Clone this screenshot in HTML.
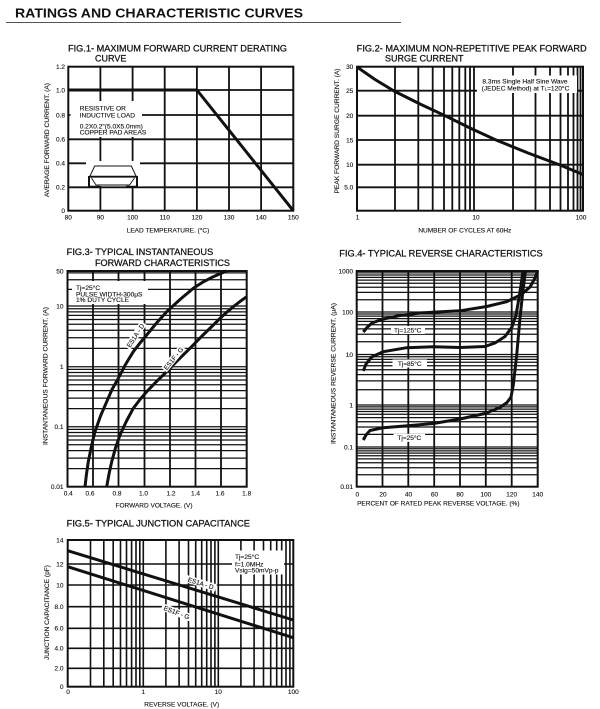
<!DOCTYPE html>
<html>
<head>
<meta charset="utf-8">
<style>
html,body{margin:0;padding:0;background:#fff;}
svg{display:block;}
text{font-family:"Liberation Sans",Arial,sans-serif;fill:#111;}
.tt{font-size:9px;stroke:#111;stroke-width:0.25;}
.tk{font-size:6.5px;stroke:#111;stroke-width:0.12;}
.ax{font-size:6.5px;stroke:#111;stroke-width:0.12;}
.an{font-size:6.6px;stroke:#111;stroke-width:0.12;}
</style>
</head>
<body>
<svg width="600" height="709" viewBox="0 0 600 709" xmlns="http://www.w3.org/2000/svg">
<rect width="600" height="709" fill="#fff"/>

<!-- Header -->
<text x="15" y="17.5" font-size="13" font-weight="bold" textLength="288" lengthAdjust="spacingAndGlyphs">RATINGS AND CHARACTERISTIC CURVES</text>
<line x1="6" y1="22.5" x2="401" y2="22.5" stroke="#555" stroke-width="1"/>

<!-- ================= FIG 1 ================= -->
<text class="tt" x="68" y="51.7" textLength="219" lengthAdjust="spacingAndGlyphs">FIG.1- MAXIMUM FORWARD CURRENT DERATING</text>
<text class="tt" x="95" y="61.7">CURVE</text>
<path d="M100.4 66.7V210.7M132.6 66.7V210.7M164.7 66.7V210.7M196.9 66.7V210.7M229 66.7V210.7M261.1 66.7V210.7M68.3 90H293.3M68.3 115H293.3M68.3 139.3H293.3M68.3 163.3H293.3M68.3 187.3H293.3" stroke="#111" stroke-width="1.8" fill="none"/>
<rect x="70.5" y="101" width="71.5" height="36" fill="#fff"/>
<rect x="86" y="161" width="54" height="25" fill="#fff"/>
<rect x="68.3" y="66.7" width="225" height="144" fill="none" stroke="#111" stroke-width="2"/>
<polyline points="68.3,90 196.9,90 293.3,210.7" fill="none" stroke="#111" stroke-width="3" stroke-linejoin="round"/>
<text class="an" x="79.7" y="110.5">RESISTIVE OR</text>
<text class="an" x="79.7" y="117.3">INDUCTIVE LOAD</text>
<text class="an" x="79.7" y="128.3">0.2X0.2"(5.0X5.0mm)</text>
<text class="an" x="79.7" y="134.6">COPPER PAD AREAS</text>
<!-- package -->
<path d="M89.7 176.7L94.7 166H131.3L136.3 176.7" stroke="#111" stroke-width="1" fill="none"/>
<path d="M89 176.7H137" stroke="#111" stroke-width="1.8" fill="none"/>
<path d="M89 176V186.7H100M137 176V186.7H126" stroke="#111" stroke-width="2" fill="none"/>
<path d="M91.5 178L96 185H129.5L134.5 178" stroke="#111" stroke-width="0.9" fill="none"/>
<!-- ticks -->
<g class="tk" text-anchor="end">
<text x="65" y="69">1.2</text><text x="65" y="92.3">1.0</text><text x="65" y="117.3">0.8</text>
<text x="65" y="141.6">0.6</text><text x="65" y="165.6">0.4</text><text x="65" y="189.6">0.2</text><text x="65" y="213">0</text>
</g>
<g class="tk" text-anchor="middle">
<text x="68.3" y="219.3">80</text><text x="100.4" y="219.3">90</text><text x="132.6" y="219.3">100</text>
<text x="164.7" y="219.3">110</text><text x="196.9" y="219.3">120</text><text x="229" y="219.3">130</text>
<text x="261.1" y="219.3">140</text><text x="293.3" y="219.3">150</text>
</g>
<text class="ax" x="168" y="232.7" text-anchor="middle">LEAD TEMPERATURE. (°C)</text>
<text class="ax" transform="translate(49,140) rotate(-90)" text-anchor="middle" textLength="114" lengthAdjust="spacingAndGlyphs">AVERAGE FORWARD CURRENT. (A)</text>

<!-- ================= FIG 2 ================= -->
<text class="tt" x="356.7" y="51.7" textLength="230" lengthAdjust="spacingAndGlyphs">FIG.2- MAXIMUM NON-REPETITIVE PEAK FORWARD</text>
<text class="tt" x="385" y="61.7">SURGE CURRENT</text>
<path d="M395 66.7V210.7M418.3 66.7V210.7M432.7 66.7V210.7M444 66.7V210.7M452.3 66.7V210.7M459.3 66.7V210.7M465.3 66.7V210.7M470 66.7V210.7M474 66.7V210.7M513 66.7V210.7M535.5 66.7V210.7M550 66.7V210.7M560.5 66.7V210.7M568 66.7V210.7M573.5 66.7V210.7M577.5 66.7V210.7M580.5 66.7V210.7M357 90.7H583M357 115.7H583M357 140H583M357 164.7H583M357 187.3H583" stroke="#111" stroke-width="1.8" fill="none"/>
<rect x="477" y="75.5" width="100" height="17.5" fill="#fff"/>
<rect x="357" y="66.7" width="226" height="144" fill="none" stroke="#111" stroke-width="2"/>
<polyline points="357,67 375,79.5 394,91 420,104 445,115.7 470,128 496,140 528,153 560,165 583,174.5" fill="none" stroke="#111" stroke-width="3" stroke-linejoin="round"/>
<text class="an" x="525" y="83.4" text-anchor="middle">8.3ms Single Half Sine Wave</text>
<text class="an" x="525.5" y="90.6" text-anchor="middle">(JEDEC Method) at T<tspan font-size="4.5">L</tspan>=120°C</text>
<g class="tk" text-anchor="end">
<text x="353.3" y="69">30</text><text x="353.3" y="93">25</text><text x="353.3" y="118">20</text>
<text x="353.3" y="142.3">15</text><text x="353.3" y="167">10</text><text x="353.3" y="189.6">5.0</text>
</g>
<g class="tk" text-anchor="middle">
<text x="357.5" y="219.3">1</text><text x="476" y="219.3">10</text><text x="581" y="219.3">100</text>
</g>
<text class="ax" x="464.8" y="232.7" text-anchor="middle">NUMBER OF CYCLES AT 60Hz</text>
<text class="ax" transform="translate(339,131) rotate(-90)" text-anchor="middle" textLength="125" lengthAdjust="spacingAndGlyphs">PEAK FORWARD SURGE CURRENT. (A)</text>

<!-- ================= FIG 3 ================= -->
<text class="tt" x="66.7" y="255" textLength="146.6" lengthAdjust="spacingAndGlyphs">FIG.3- TYPICAL INSTANTANEOUS</text>
<text class="tt" x="95" y="266" textLength="135" lengthAdjust="spacingAndGlyphs">FORWARD CHARACTERISTICS</text>
<path d="M93 271V486.7M118.5 271V486.7M144.5 271V486.7M170 271V486.7M195.5 271V486.7M221 271V486.7" stroke="#111" stroke-width="1.8" fill="none"/>
<path d="M67.5 272.9H246.7M67.5 279.8H246.7M67.5 289.4H246.7M67.5 306H246.7M67.5 308.8H246.7M67.5 311.9H246.7M67.5 315.4H246.7M67.5 319.5H246.7M67.5 324.3H246.7M67.5 330.2H246.7M67.5 337.7H246.7M67.5 348.4H246.7M67.5 366.7H246.7M67.5 369.4H246.7M67.5 372.5H246.7M67.5 376H246.7M67.5 380H246.7M67.5 384.8H246.7M67.5 390.6H246.7M67.5 398.1H246.7M67.5 408.6H246.7M67.5 426.7H246.7M67.5 429.4H246.7M67.5 432.5H246.7M67.5 436H246.7M67.5 440H246.7M67.5 444.8H246.7M67.5 450.6H246.7M67.5 458.1H246.7M67.5 468.6H246.7" stroke="#111" stroke-width="1.25" fill="none"/>
<rect x="72" y="281" width="76" height="23" fill="#fff"/>
<rect x="67.5" y="271" width="179.2" height="215.7" fill="none" stroke="#111" stroke-width="2"/>
<polyline points="85,486.7 86.5,474 88.3,461.7 91.5,446 95,431.7 100.5,416 106.7,401.7 112,389.5 118.3,378.3 125.5,364.5 133.3,351.7 140,343 146.7,335 156.5,323 166.7,311.7 180,299.5 193.3,288.3 203,282 213.3,276.7 220,273.7 226.7,271" fill="none" stroke="#111" stroke-width="3" stroke-linejoin="round"/>
<polyline points="106.7,486.7 109,474 111.7,461.7 115.5,448 120,435 126.5,421 133.3,408.3 140,399.5 146.7,391.7 156.5,381.5 166.7,371.7 178,360 190,348.3 201.5,336.5 213.3,325 223,315.5 233.3,306.7 240,301.5 246.7,296.7" fill="none" stroke="#111" stroke-width="3" stroke-linejoin="round"/>
<text class="an" x="76" y="289.8">Tj=25°C</text>
<text class="an" x="76" y="296.4">PULSE WIDTH-300μS</text>
<text class="an" x="76" y="302.2">1% DUTY CYCLE</text>
<g transform="translate(135.5,335.5) rotate(-57)"><rect x="-15" y="-3.8" width="30" height="7.4" fill="#fff"/><text class="tk" x="0" y="2.3" text-anchor="middle">ES1A - D</text></g>
<g transform="translate(173.5,358.5) rotate(-51)"><rect x="-15" y="-3.8" width="30" height="7.4" fill="#fff"/><text class="tk" x="0" y="2.3" text-anchor="middle">ES1F - G</text></g>
<g class="tk" text-anchor="end">
<text x="63.5" y="273.3">50</text><text x="63.5" y="308.3">10</text><text x="63.5" y="369">1</text>
<text x="63.5" y="429">0.1</text><text x="63.5" y="489">0.01</text>
</g>
<g class="tk" text-anchor="middle">
<text x="68.3" y="495.6">0.4</text><text x="90" y="495.6">0.6</text><text x="117" y="495.6">0.8</text>
<text x="143.5" y="495.6">1.0</text><text x="171" y="495.6">1.2</text><text x="195.5" y="495.6">1.4</text>
<text x="220" y="495.6">1.6</text><text x="246.7" y="495.6">1.8</text>
</g>
<text class="ax" x="154" y="507.3" text-anchor="middle">FORWARD VOLTAGE. (V)</text>
<text class="ax" transform="translate(47.3,376) rotate(-90)" text-anchor="middle" textLength="138" lengthAdjust="spacingAndGlyphs">INSTANTANEOUS FORWARD CURRENT. (A)</text>

<!-- ================= FIG 4 ================= -->
<text class="tt" x="339.3" y="256.5" textLength="203.4" lengthAdjust="spacingAndGlyphs">FIG.4- TYPICAL REVERSE CHARACTERISTICS</text>
<path d="M382.5 271V486.7M408.3 271V486.7M434.2 271V486.7M460 271V486.7M485.8 271V486.7M511.7 271V486.7" stroke="#111" stroke-width="1.8" fill="none"/>
<path d="M356.7 272.9H537.7M356.7 275H537.7M356.7 277.4H537.7M356.7 280.1H537.7M356.7 283.3H537.7M356.7 287.3H537.7M356.7 292.4H537.7M356.7 299.7H537.7M356.7 312H537.7M356.7 314H537.7M356.7 316.1H537.7M356.7 318.6H537.7M356.7 321.4H537.7M356.7 324.8H537.7M356.7 328.9H537.7M356.7 334.2H537.7M356.7 341.7H537.7M356.7 354.5H537.7M356.7 356.8H537.7M356.7 359.4H537.7M356.7 362.3H537.7M356.7 365.7H537.7M356.7 369.7H537.7M356.7 374.6H537.7M356.7 380.9H537.7M356.7 389.8H537.7M356.7 405H537.7M356.7 406.9H537.7M356.7 409.1H537.7M356.7 411.5H537.7M356.7 414.3H537.7M356.7 417.6H537.7M356.7 421.7H537.7M356.7 427H537.7M356.7 434.4H537.7M356.7 447H537.7M356.7 448.8H537.7M356.7 450.9H537.7M356.7 453.1H537.7M356.7 455.8H537.7M356.7 458.9H537.7M356.7 462.8H537.7M356.7 467.8H537.7M356.7 474.7H537.7" stroke="#111" stroke-width="1.25" fill="none"/>
<rect x="391" y="326" width="34" height="8" fill="#fff"/>
<rect x="392.5" y="359.5" width="34.5" height="8" fill="#fff"/>
<rect x="393.5" y="433.8" width="31.5" height="8" fill="#fff"/>
<rect x="356.7" y="271" width="181" height="215.7" fill="none" stroke="#111" stroke-width="2"/>
<polyline points="363.3,332 367,327.5 372,323 383.3,319 400,315.5 420,313 436.7,312 460,310.8 486.7,306.5 506.7,301.7 521.7,294.3 530,287 535,278 537.7,271" fill="none" stroke="#111" stroke-width="3" stroke-linejoin="round"/>
<polyline points="363.3,371 366,364 371.7,357 383.3,351.7 406.7,347.7 433.3,346.7 460,347.5 485,346.5 495,343 505,336.5 512,327 516,315 519,298 521.5,282 523,271" fill="none" stroke="#111" stroke-width="3" stroke-linejoin="round"/>
<polyline points="363.3,440 366,435 370,430.5 383.3,427.7 416.7,425 433.3,423.5 460,419 485,413.5 500,407.5 507,402.5 511,397 513.3,385 516.7,355 520,318 523,290 525.5,271" fill="none" stroke="#111" stroke-width="3" stroke-linejoin="round"/>
<text class="tk" x="407.7" y="332.3" text-anchor="middle">Tj=125°C</text>
<text class="tk" x="409.7" y="365.8" text-anchor="middle">Tj=85°C</text>
<text class="tk" x="409.3" y="440" text-anchor="middle">Tj=25°C</text>
<g class="tk" text-anchor="end">
<text x="353" y="273.3">1000</text><text x="353" y="314.3">100</text><text x="353" y="356.8">10</text>
<text x="353" y="407.3">1</text><text x="353" y="449.3">0.1</text><text x="353" y="489">0.01</text>
</g>
<g class="tk" text-anchor="middle">
<text x="357.3" y="496.6">0</text><text x="383" y="496.6">20</text><text x="408.5" y="496.6">40</text>
<text x="434.5" y="496.6">60</text><text x="460" y="496.6">80</text><text x="485.8" y="496.6">100</text>
<text x="511.7" y="496.6">120</text><text x="537.7" y="496.6">140</text>
</g>
<text class="ax" x="438.3" y="505.6" text-anchor="middle">PERCENT OF RATED PEAK REVERSE VOLTAGE. (%)</text>
<text class="ax" transform="translate(335.6,373.5) rotate(-90)" text-anchor="middle" textLength="141" lengthAdjust="spacingAndGlyphs">INSTANTANEOUS REVERSE CURRENT. (μA)</text>

<!-- ================= FIG 5 ================= -->
<text class="tt" x="66.7" y="526.5" textLength="183.3" lengthAdjust="spacingAndGlyphs">FIG.5- TYPICAL JUNCTION CAPACITANCE</text>
<path d="M90.5 540V686.7M103.8 540V686.7M113.2 540V686.7M120.5 540V686.7M126.5 540V686.7M131.6 540V686.7M136 540V686.7M139.8 540V686.7M143.3 540V686.7M165.9 540V686.7M179.1 540V686.7M188.5 540V686.7M195.7 540V686.7M201.7 540V686.7M206.7 540V686.7M211 540V686.7M214.9 540V686.7M218.3 540V686.7M240.9 540V686.7M254.1 540V686.7M263.5 540V686.7M270.7 540V686.7M276.7 540V686.7M281.7 540V686.7M286 540V686.7M289.9 540V686.7" stroke="#111" stroke-width="1.6" fill="none"/>
<path d="M67.7 564H293.3M67.7 585H293.3M67.7 606.7H293.3M67.7 628.3H293.3M67.7 648.3H293.3M67.7 668.3H293.3" stroke="#111" stroke-width="1.6" fill="none"/>
<rect x="232" y="550.5" width="52" height="24" fill="#fff"/>
<rect x="67.7" y="540" width="225.6" height="146.7" fill="none" stroke="#111" stroke-width="2"/>
<line x1="67.7" y1="550.7" x2="293.3" y2="620" stroke="#111" stroke-width="3"/>
<line x1="67.7" y1="566.7" x2="293.3" y2="637.7" stroke="#111" stroke-width="3"/>
<g transform="translate(200.8,583.3) rotate(17.5)"><rect x="-16" y="-3.8" width="32" height="7.4" fill="#fff"/><text class="tk" x="0" y="2.3" text-anchor="middle">ES1A - D</text></g>
<g transform="translate(176.7,612.5) rotate(21)"><rect x="-16" y="-3.8" width="32" height="7.4" fill="#fff"/><text class="tk" x="0" y="2.3" text-anchor="middle">ES1F - G</text></g>
<text class="an" x="235" y="559">Tj=25°C</text>
<text class="an" x="235" y="566.3">f=1.0MHz</text>
<text class="an" x="235" y="572.5">Vsig=50mVp-p</text>
<g class="tk" text-anchor="end">
<text x="63.5" y="542.3">14</text><text x="63.5" y="566.3">12</text><text x="63.5" y="587.3">10</text>
<text x="63.5" y="609">8.0</text><text x="63.5" y="630.6">6.0</text><text x="63.5" y="650.6">4.0</text>
<text x="63.5" y="670.6">2.0</text><text x="63.5" y="689">0</text>
</g>
<g class="tk" text-anchor="middle">
<text x="68" y="694">0</text><text x="143.3" y="694">1</text><text x="218.3" y="694">10</text><text x="293.3" y="694">100</text>
</g>
<text class="ax" x="181.7" y="706.3" text-anchor="middle">REVERSE VOLTAGE. (V)</text>
<text class="ax" transform="translate(49,612.5) rotate(-90)" text-anchor="middle" textLength="95" lengthAdjust="spacingAndGlyphs">JUNCTION CAPACITANCE (pF)</text>

</svg>
</body>
</html>
